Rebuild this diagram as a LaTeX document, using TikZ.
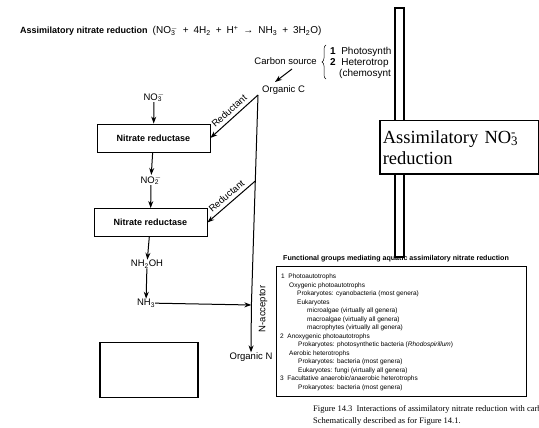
\documentclass[tikz,border=0pt]{standalone}
\usepackage{fontspec}
\setmainfont{Liberation Sans}
\newfontfamily\capserif{Liberation Serif}
\usetikzlibrary{arrows.meta,decorations.pathreplacing}
\newcommand\chemss[2]{\rlap{\textsubscript{#1}}\textsuperscript{#2}}
\begin{document}
\begin{tikzpicture}[x=1pt,y=-1pt,
  lbl/.style={font=\fontsize{9.5}{11}\selectfont, inner sep=0pt},
  enz/.style={draw, line width=0.8pt, minimum width=113pt, minimum height=28pt,
    font=\bfseries\fontsize{9}{11}\selectfont, inner sep=0pt},
  tip/.tip={Stealth[length=7pt,width=5pt]},
  arr/.style={-tip, line width=1pt},
  rarr/.style={tip-, line width=1pt},
  tbl/.style={font=\fontsize{6.5}{8}\selectfont, anchor=base west, inner sep=0pt},
  captxt/.style={font=\capserif\fontsize{8.5}{10}\selectfont, anchor=base west, inner sep=0pt},
  ovl/.style={draw, fill=white, line width=1.5pt, inner sep=0pt}]
\useasboundingbox (0,0) rectangle (539,428);

% title
\node[lbl, anchor=west, font=\fontsize{9}{11}\selectfont] (title) at (20,31)
  {\textbf{Assimilatory nitrate reduction}\ \ {\fontsize{10}{11}\selectfont(NO\chemss{3}{$-$}\enspace+\enspace4H\textsubscript{2}\enspace+\enspace H\textsuperscript{+}\enspace→\enspace NH\textsubscript{3}\enspace+\enspace3H\textsubscript{2}O)}};

% carbon source
\node[lbl, anchor=east] (carbon) at (317,61) {Carbon source};
\coordinate (brb) at (326,79);
\coordinate (brt) at (326,45);
\draw[line width=0.5pt, decorate, decoration={brace, amplitude=4pt}] (brb) -- (brt);
\begin{scope}
\clip (320,40) rectangle (396,80);
\node[lbl, anchor=base west, font=\fontsize{10}{11}\selectfont] (c1) at (330,55) {\textbf{1}\ \ Photosynth};
\node[lbl, anchor=base west, font=\fontsize{10}{11}\selectfont] (c2) at (330,66) {\textbf{2}\ \ Heterotrop};
\node[lbl, anchor=base west, font=\fontsize{10}{11}\selectfont] (c3) at (339,77) {(chemosynt};
\end{scope}

\node[lbl, anchor=west] (orgC) at (262,90) {Organic C};
\coordinate (cs) at (292,69);
\coordinate (ce) at (275,82);
\draw[arr] (cs) -- (ce);

% main chain
\node[lbl] (no3) at (154,97) {NO\chemss{3}{$-$}};
\node[enz] (box1) at (153.5,138) {Nitrate reductase};
\node[lbl] (no2) at (151,180) {NO\chemss{2}{$-$}};
\node[enz] (box2) at (150.5,222.5) {Nitrate reductase};
\node[lbl] (nh2oh) at (147,264) {NH\textsubscript{2}OH};
\node[lbl] (nh3) at (146,303) {NH\textsubscript{3}};
\node[lbl] (orgN) at (251,357) {Organic N};

\draw[arr] (no3) -- (box1);
\draw[arr] (box1) -- (no2);
\draw[arr] (no2) -- (box2);
\draw[arr] (box2) -- (nh2oh);
\draw[arr] (nh2oh) -- (nh3);

% organic C trunk
\coordinate (top) at (258,95);
\coordinate (r2) at (255.3,181);
\coordinate (nacc) at (251.4,305);
\draw[arr] (top) -- (r2) -- (nacc) -- (orgN.north);
\node[lbl, rotate=90] (nacclbl) at (263,309) {N-acceptor};
\draw[arr] (nh3) -- (nacc);
\draw[rarr] (box1.east) -- node[lbl, sloped, above=3.5pt] (red1) {Reductant} (top);
\draw[rarr] (box2.east) -- node[lbl, sloped, above=3.5pt] (red2) {Reductant} (r2);

% empty box
\node[draw, line width=1.5pt, minimum width=98pt, minimum height=55pt, inner sep=0pt] (empty) at (149,370) {};

% functional groups table
\node[tbl, font=\bfseries\fontsize{7.1}{8}\selectfont] (fgt) at (283,260)
  {Functional groups mediating aquatic assimilatory nitrate reduction};
\node[draw, line width=0.5pt, minimum width=250pt, minimum height=130pt, inner sep=0pt] (tbox) at (401,331) {};
\node[tbl] (t1) at (281,278.5) {1\ \ Photoautotrophs};
\node[tbl] (t2) at (289,287) {Oxygenic photoautotrophs};
\node[tbl] (t3) at (297,295.5) {Prokaryotes: cyanobacteria (most genera)};
\node[tbl] (t4) at (297,304) {Eukaryotes};
\node[tbl] (t5) at (307,312.5) {microalgae (virtually all genera)};
\node[tbl] (t6) at (307,321) {macroalgae (virtually all genera)};
\node[tbl] (t7) at (307,329.5) {macrophytes (virtually all genera)};
\node[tbl] (t8) at (280,338) {2\ \ Anoxygenic photoautotrophs};
\node[tbl] (t9) at (298,346.5) {Prokaryotes: photosynthetic bacteria (\textit{Rhodospirillum})};
\node[tbl] (t10) at (289,355) {Aerobic heterotrophs};
\node[tbl] (t11) at (298,363.5) {Prokaryotes: bacteria (most genera)};
\node[tbl] (t12) at (298,372) {Eukaryotes: fungi (virtually all genera)};
\node[tbl] (t13) at (280,380.5) {3\ \ Facultative anaerobic/anaerobic heterotrophs};
\node[tbl] (t14) at (298,389) {Prokaryotes: bacteria (most genera)};

% caption
\node[captxt] (cap1) at (313,411) {Figure 14.3\ \ Interactions of assimilatory nitrate reduction with carbo};
\node[captxt] (cap2) at (313,423) {Schematically described as for Figure 14.1.};

% overlays
\node[ovl, minimum width=9pt, minimum height=249pt] (bar) at (399.5,132.5) {};
\node[ovl, minimum width=159pt, minimum height=53pt, align=left, anchor=north west,
  font=\capserif\fontsize{18.5}{21}\selectfont, text width=153pt] (nbox) at (379,120)
  {Assimilatory NO\chemss{3}{-}\\reduction};
\end{tikzpicture}
\end{document}
